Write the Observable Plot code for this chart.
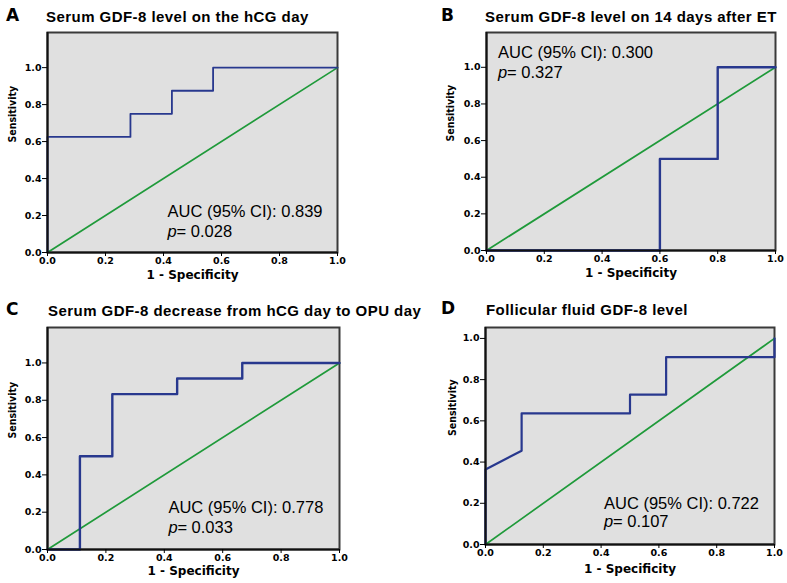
<!DOCTYPE html>
<html>
<head>
<meta charset="utf-8">
<script src="https://cdn.jsdelivr.net/npm/d3@7"></script>
<script src="https://cdn.jsdelivr.net/npm/@observablehq/plot@0.6"></script>
<style>
  body { margin: 0; background: #fff; }
  #fig { position: relative; width: 787px; height: 583px; overflow: hidden; background: #fff; }
  #fig > svg, #fig > div { position: absolute; }
  .letter { font: bold 17px "DejaVu Sans", sans-serif; line-height: 17px; color: #000; }
  .title { font: bold 15px "Liberation Sans", Arial, sans-serif; line-height: 15px; letter-spacing: 0.45px; color: #000; white-space: nowrap; }
</style>
</head>
<body>
<div id="fig"></div>
<script>
// ---- data ----
const panelLetters = ["A", "B", "C", "D"];
const panelTitles = [
  "Serum GDF-8 level on the hCG day",
  "Serum GDF-8 level on 14 days after ET",
  "Serum GDF-8 decrease from hCG day to OPU day",
  "Follicular fluid GDF-8 level"
];
const aucLabels = ["AUC (95% CI): 0.839", "AUC (95% CI): 0.300", "AUC (95% CI): 0.778", "AUC (95% CI): 0.722"];
const pLabels = ["= 0.028", "= 0.327", "= 0.033", "= 0.107"];

const fprA = [0, 0, 0.286, 0.286, 0.429, 0.429, 0.571, 0.571, 1];
const tprA = [0, 0.625, 0.625, 0.75, 0.75, 0.875, 0.875, 1, 1];
const fprB = [0, 0.6, 0.6, 0.8, 0.8, 1];
const tprB = [0, 0, 0.5, 0.5, 1, 1];
const fprC = [0, 0.111, 0.111, 0.222, 0.222, 0.444, 0.444, 0.667, 0.667, 1];
const tprC = [0, 0, 0.5, 0.5, 0.833, 0.833, 0.917, 0.917, 1, 1];
const fprD = [0, 0, 0.125, 0.125, 0.5, 0.5, 0.625, 0.625, 1, 1];
const tprD = [0, 0.364, 0.455, 0.636, 0.636, 0.727, 0.727, 0.909, 0.909, 1];
const refX = [0, 1];
const refY = [0, 1];
const tickValues = [0, 0.2, 0.4, 0.6, 0.8, 1.0];
const xLabel = "1 - Specificity";
const yLabel = "Sensitivity";

// ---- drawing ----
const fig = document.getElementById("fig");
const NAVY = "#28388e", GREEN = "#1f9a3a", BG = "#e0e0e0";
const tickFont = {fontFamily: "DejaVu Sans", fontWeight: "bold", fontSize: 9.5};

function panel(cfg) {
  const roc = cfg.fpr.map((x, i) => ({x, y: cfg.tpr[i]}));
  const diag = refX.map((x, i) => ({x, y: refY[i]}));
  const svg = Plot.plot({
    width: cfg.w, height: cfg.h,
    marginLeft: cfg.ml, marginRight: cfg.mr, marginTop: cfg.mt, marginBottom: cfg.mb,
    x: {domain: [0, 1]},
    y: {domain: [0, cfg.yMax]},
    style: {background: "transparent", overflow: "visible", color: "#000"},
    marks: [
      Plot.frame({fill: BG, stroke: "#3a3a3a", strokeWidth: 2}),
      Plot.line(diag, {x: "x", y: "y", stroke: GREEN, strokeWidth: 1.7}),
      Plot.line(roc, {x: "x", y: "y", stroke: NAVY, strokeWidth: cfg.lw}),
      Plot.ruleX([0], {stroke: "#111", strokeWidth: 2}),
      Plot.ruleY([0], {stroke: "#111", strokeWidth: 2}),
      Plot.axisX({ticks: tickValues, tickFormat: d3.format(".1f"), tickSize: 4, tickPadding: 1, label: null, ...tickFont}),
      Plot.axisY({ticks: tickValues, tickFormat: d3.format(".1f"), tickSize: 5, tickPadding: 1, label: null, ...tickFont}),
      Plot.text([xLabel], {frameAnchor: "bottom", dy: cfg.xlDy, fontFamily: "DejaVu Sans", fontWeight: "bold", fontSize: 12}),
      Plot.text([yLabel], {frameAnchor: "left", dx: cfg.ylDx, rotate: -90, fontFamily: "DejaVu Sans Condensed", fontWeight: "bold", fontSize: 10.5}),
      Plot.text([cfg.auc], {x: () => cfg.tx, y: () => cfg.ty1, textAnchor: "start", fontFamily: "Liberation Sans", fontSize: 16.5}),
      Plot.text(["p"], {x: () => cfg.tx, y: () => cfg.ty2, textAnchor: "start", fontFamily: "Liberation Sans", fontStyle: "italic", fontSize: 16.5}),
      Plot.text([cfg.p], {x: () => cfg.tx, y: () => cfg.ty2, dx: 9, textAnchor: "start", fontFamily: "Liberation Sans", fontSize: 16.5})
    ]
  });
  svg.style.left = cfg.left + "px";
  svg.style.top = cfg.top + "px";
  fig.appendChild(svg);

  const L = document.createElement("div");
  L.className = "letter"; L.textContent = cfg.letter;
  L.style.left = cfg.lx + "px"; L.style.top = cfg.ly + "px";
  fig.appendChild(L);
  const T = document.createElement("div");
  T.className = "title"; T.textContent = cfg.title;
  T.style.left = cfg.tlx + "px"; T.style.top = cfg.tly + "px";
  fig.appendChild(T);
}

panel({letter: panelLetters[0], title: panelTitles[0], auc: aucLabels[0], p: pLabels[0],
  fpr: fprA, tpr: tprA, yMax: 1.19, lw: 1.8,
  left: 0, top: 22, w: 345, h: 270, ml: 47, mr: 8, mt: 10, mb: 40,
  xlDy: 26, ylDx: -35, tx: 0.414, ty1: 0.22, ty2: 0.115,
  lx: 6, ly: 7, tlx: 46, tly: 9});

panel({letter: panelLetters[1], title: panelTitles[1], auc: aucLabels[1], p: pLabels[1],
  fpr: fprB, tpr: tprB, yMax: 1.19, lw: 2.4,
  left: 395, top: 22, w: 392, h: 270, ml: 91, mr: 12, mt: 10, mb: 42,
  xlDy: 26, ylDx: -36, tx: 0.04, ty1: 1.077, ty2: 0.973,
  lx: 441, ly: 7, tlx: 485, tly: 9});

panel({letter: panelLetters[2], title: panelTitles[2], auc: aucLabels[2], p: pLabels[2],
  fpr: fprC, tpr: tprC, yMax: 1.19, lw: 2.4,
  left: 0, top: 315, w: 440, h: 268, ml: 47, mr: 101, mt: 12, mb: 34,
  xlDy: 25.5, ylDx: -35, tx: 0.414, ty1: 0.225, ty2: 0.118,
  lx: 6, ly: 301, tlx: 48, tly: 303});

panel({letter: panelLetters[3], title: panelTitles[3], auc: aucLabels[3], p: pLabels[3],
  fpr: fprD, tpr: tprD, yMax: 1.053, lw: 2.2,
  left: 430, top: 315, w: 357, h: 268, ml: 55, mr: 13, mt: 12, mb: 39,
  xlDy: 28, ylDx: -33, tx: 0.41, ty1: 0.2, ty2: 0.11,
  lx: 441, ly: 300, tlx: 486, tly: 302});
</script>
</body>
</html>
